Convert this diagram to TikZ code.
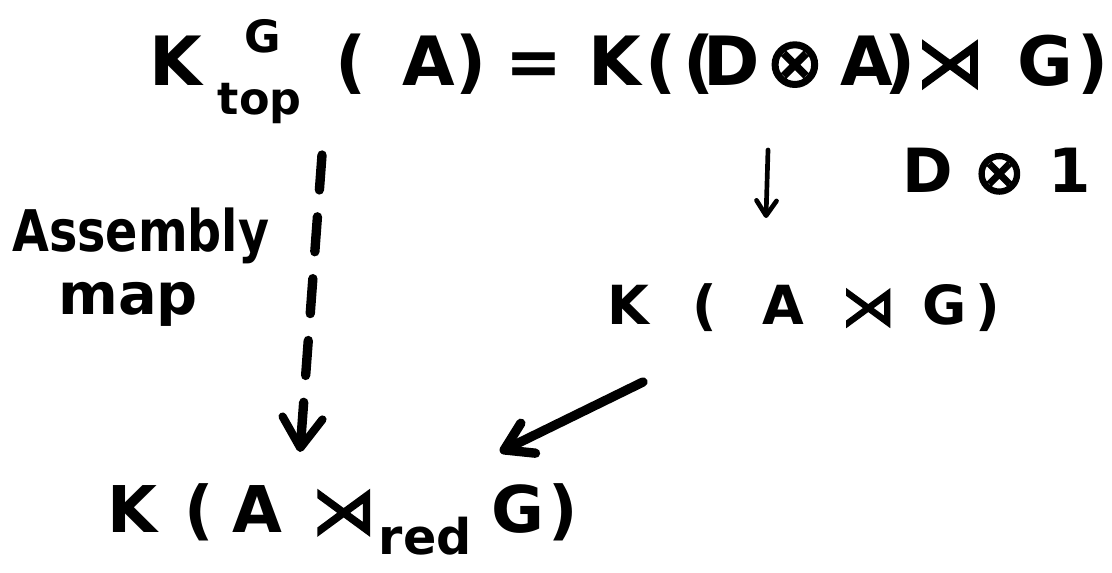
\documentclass[tikz,border=0pt]{standalone}
\usepackage{fontspec}
\usepackage{graphicx}
\setmainfont{DejaVu Sans}
\newfontfamily\symf{DejaVu Sans}[FakeBold=3]
\usetikzlibrary{arrows.meta}
\newlength\px
\setlength\px{0.03cm}
\newcommand\fs[1]{\fontsize{#1}{#1}\selectfont}
\begin{document}
\begin{tikzpicture}[x=0.03cm,y=-0.03cm,
  txt/.style={anchor=base west, inner sep=0pt, font=\bfseries},
  stroke/.style={line cap=round, line join=round}]
\useasboundingbox (0,0) rectangle (1112,573);
% top line
\node[txt] (ktop) at (149,86) {\fs{58}K\hspace{16\px}\rlap{\hspace{27\px}\raisebox{33\px}{\fs{38}G}}\raisebox{-29\px}{\fs{38}top}\hspace{34\px}(\hspace{36\px}A\hspace{0\px})};
\node[txt, anchor=base] (eq) at (534,86) {\fs{58}=};
\node[txt] (kda) at (588,86) {\fs{58}K\hspace{5\px}(\hspace{7\px}(\hspace{-12\px}D\hspace{7\px}{\symf\mdseries ⊗}\hspace{17\px}A\hspace{-8\px})\hspace{0\px}{\symf\mdseries ⋊}\hspace{34\px}G\hspace{4\px})};
% middle
\node[txt] (dl) at (902,193) {\fs{52}D\hspace{21\px}{\symf\mdseries ⊗}\hspace{24\px}1};
\node[txt] (kag) at (607,325) {\fs{46}K\hspace{44\px}(\hspace{45\px}A\hspace{37\px}{\symf\mdseries ⋊}\hspace{27\px}G\hspace{9\px})};
\node[txt] (asm) at (12,252) {\fs{49}\scalebox{0.83}[1]{Assembly}};
\node[txt] (map) at (58,315) {\fs{49}map};
% bottom
\node[txt] (kred) at (107,533) {\fs{55}K\hspace{27\px}(\hspace{19\px}A\hspace{29\px}{\symf\mdseries ⋊}\hspace{3\px}\raisebox{-22\px}{\fs{42}red}\hspace{20\px}G\hspace{4\px})};
% arrows
\draw[stroke, line width=4pt, -{Straight Barb[round, length=0.45cm, width=0.6cm, line width=4pt]}]
  ([shift={(180,64)}]kda.base west) -- ([shift={(159,-107)}]kag.base west);
\draw[stroke, line width=8pt, dash pattern=on 1.05cm off 0.81cm,
  -{Straight Barb[round, length=0.9cm, width=1.2cm, line width=7pt]}]
  ([shift={(173,69)}]ktop.base west) -- ([shift={(193,-81)}]kred.base west);
\draw[stroke, line width=8pt, -{Straight Barb[round, length=0.8cm, width=1.0cm, line width=8pt]}]
  ([shift={(36,57)}]kag.base west) -- ([shift={(393,-81)}]kred.base west);
\end{tikzpicture}
\end{document}
